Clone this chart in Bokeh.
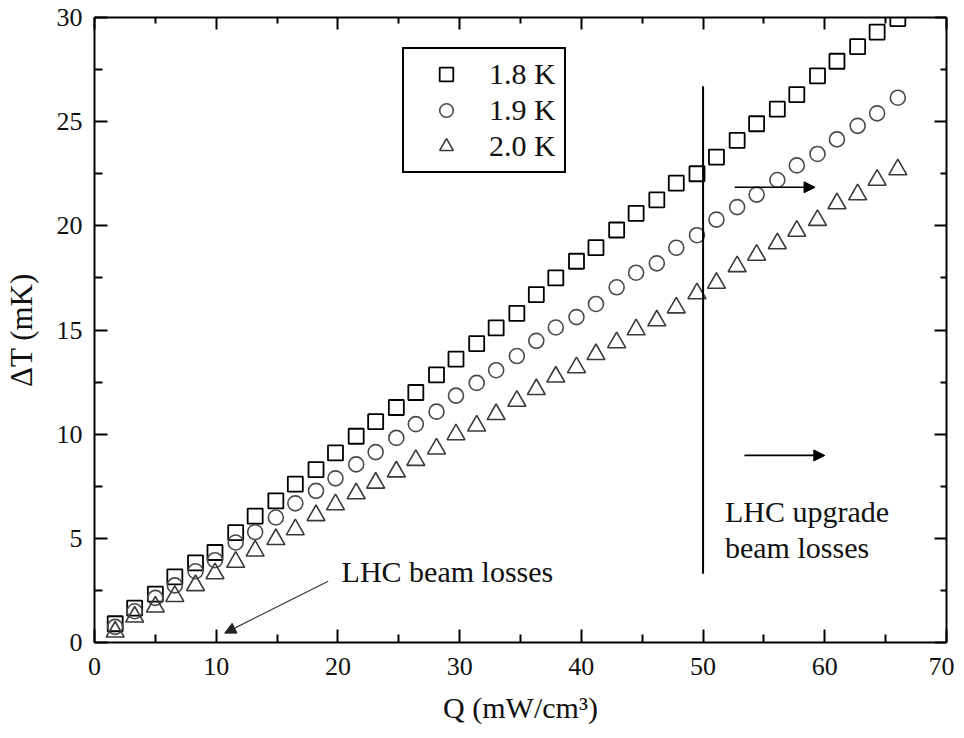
from bokeh.plotting import figure
from bokeh.models import (FixedTicker, LinearAxis, Range1d, Legend, LegendItem,
                          Arrow, NormalHead, Label)
from bokeh.embed import file_html
from bokeh.resources import INLINE

# ---- data ----
q = [1.7, 3.3, 5.0, 6.6, 8.3, 9.9, 11.6, 13.2, 14.9, 16.5,
     18.2, 19.8, 21.5, 23.1, 24.8, 26.4, 28.1, 29.7, 31.4, 33.0,
     34.7, 36.3, 37.9, 39.6, 41.2, 42.9, 44.5, 46.2, 47.8, 49.5,
     51.1, 52.8, 54.4, 56.1, 57.7, 59.4, 61.0, 62.7, 64.3, 66.0]
dt_18K = [0.9, 1.65, 2.32, 3.15, 3.82, 4.32, 5.27, 6.07, 6.8, 7.6,
          8.3, 9.1, 9.9, 10.6, 11.28, 12.0, 12.85, 13.6, 14.35, 15.1,
          15.8, 16.7, 17.5, 18.3, 18.95, 19.8, 20.6, 21.25, 22.05, 22.5,
          23.3, 24.1, 24.9, 25.6, 26.3, 27.2, 27.9, 28.6, 29.3, 29.95]
dt_19K = [0.75, 1.5, 2.14, 2.74, 3.42, 3.95, 4.8, 5.3, 6.0, 6.68,
          7.28, 7.88, 8.55, 9.14, 9.82, 10.48, 11.08, 11.85, 12.46, 13.07,
          13.75, 14.48, 15.12, 15.62, 16.25, 17.05, 17.75, 18.2, 18.95, 19.55,
          20.3, 20.9, 21.5, 22.2, 22.9, 23.45, 24.15, 24.8, 25.4, 26.15]
dt_20K = [0.51, 1.23, 1.71, 2.22, 2.74, 3.31, 3.86, 4.4, 4.95, 5.42,
          6.1, 6.62, 7.15, 7.66, 8.2, 8.75, 9.3, 9.98, 10.4, 10.95,
          11.59, 12.15, 12.75, 13.2, 13.83, 14.4, 15.02, 15.45, 16.07, 16.75,
          17.25, 18.05, 18.6, 19.15, 19.75, 20.27, 21.07, 21.5, 22.2, 22.7]
series_labels = ["1.8 K", "1.9 K", "2.0 K"]
x_title = "Q (mW/cm³)"
y_title = "ΔT (mK)"

x_major = [0, 10, 20, 30, 40, 50, 60, 70]
x_minor = [5, 15, 25, 35, 45, 55, 65]
y_major = [0, 5, 10, 15, 20, 25, 30]
y_minor = [2.5, 7.5, 12.5, 17.5, 22.5, 27.5]

# annotation positions (data units)
limit_q = 50
limit_dt = [3.3, 26.7]
arrow_upper = dict(x0=52.6, x1=59.2, y=21.85)
arrow_lower = dict(x0=53.4, x1=60.0, y=8.98)
arrow_lhc = dict(x0=19.2, y0=2.94, x1=10.7, y1=0.45)
text_lhc = dict(x=20.3, y=3.42, text="LHC beam losses")
text_up1 = dict(x=51.8, y=6.3, text="LHC upgrade")
text_up2 = dict(x=51.8, y=4.55, text="beam losses")

SERIF = "Liberation Serif"
TXT = "#111111"

p = figure(width=954, height=736, output_backend="svg", toolbar_location=None,
           x_range=Range1d(0, 70), y_range=Range1d(0, 30),
           min_border_left=94, min_border_right=8, min_border_top=17,
           min_border_bottom=94,
           x_axis_label=x_title, y_axis_label=y_title)
p.grid.visible = False
p.outline_line_color = None
p.background_fill_color = "white"
p.border_fill_color = "white"

for ax, maj, mnr in ((p.xaxis[0], x_major, x_minor), (p.yaxis[0], y_major, y_minor)):
    ax.ticker = FixedTicker(ticks=maj, minor_ticks=mnr)
    ax.axis_line_width = 2
    ax.axis_line_color = "black"
    ax.major_tick_in = 13
    ax.major_tick_out = 0
    ax.minor_tick_in = 8
    ax.minor_tick_out = 0
    ax.major_tick_line_width = 2
    ax.minor_tick_line_width = 2
    ax.major_tick_line_color = "black"
    ax.minor_tick_line_color = "black"
    ax.major_label_text_font = SERIF
    ax.major_label_text_font_size = "26px"
    ax.major_label_text_color = TXT
    ax.axis_label_text_font = SERIF
    ax.axis_label_text_font_style = "normal"
    ax.axis_label_text_color = TXT
p.xaxis[0].major_label_standoff = 15
p.xaxis[0].axis_label_text_font_size = "30px"
p.xaxis[0].axis_label_standoff = 13
p.yaxis[0].major_label_standoff = 12
p.yaxis[0].axis_label_text_font_size = "31px"
p.yaxis[0].axis_label_standoff = 15

for side, maj, mnr in (("above", x_major, x_minor), ("right", y_major, y_minor)):
    ax = LinearAxis(ticker=FixedTicker(ticks=maj, minor_ticks=mnr),
                    major_label_overrides={t: "" for t in maj})
    ax.axis_line_width = 2
    ax.axis_line_color = "black"
    ax.major_tick_in = 12
    ax.major_tick_out = 0
    ax.minor_tick_in = 6
    ax.minor_tick_out = 0
    ax.major_tick_line_width = 2
    ax.minor_tick_line_width = 2
    ax.major_label_standoff = 0
    p.add_layout(ax, side)

r18 = p.scatter(q, dt_18K, marker="square", size=15, fill_color=None,
                line_color="black", line_width=1.8)
r19 = p.scatter(q, dt_19K, marker="circle", size=15, fill_color=None,
                line_color="#4a4a4a", line_width=1.6)
r20 = p.scatter(q, dt_20K, marker="triangle", size=18, fill_color=None,
                line_color="#3a3a3a", line_width=1.6)

legend = Legend(items=[LegendItem(label=series_labels[0], renderers=[r18]),
                       LegendItem(label=series_labels[1], renderers=[r19]),
                       LegendItem(label=series_labels[2], renderers=[r20])],
                location=(308, 469), orientation="vertical",
                padding=8, spacing=2, margin=0,
                glyph_width=68, glyph_height=34, label_standoff=9,
                label_text_font=SERIF, label_text_font_size="30px",
                label_text_color=TXT, label_text_baseline="middle",
                border_line_color="black", border_line_width=2,
                border_line_alpha=1.0,
                background_fill_color="white", background_fill_alpha=1)
p.add_layout(legend, "center")

p.segment(x0=[limit_q], y0=[limit_dt[0]], x1=[limit_q], y1=[limit_dt[1]],
          line_color="black", line_width=2)

for a in (arrow_upper, arrow_lower):
    p.add_layout(Arrow(end=NormalHead(size=11, fill_color="black", line_color="black"),
                       x_start=a["x0"], y_start=a["y"], x_end=a["x1"], y_end=a["y"],
                       line_color="black", line_width=1.6))
p.add_layout(Arrow(end=NormalHead(size=11, fill_color="#222222", line_color="#222222"),
                   x_start=arrow_lhc["x0"], y_start=arrow_lhc["y0"],
                   x_end=arrow_lhc["x1"], y_end=arrow_lhc["y1"],
                   line_color="#333333", line_width=1.2))

for t in (text_lhc, text_up1, text_up2):
    p.add_layout(Label(x=t["x"], y=t["y"], text=t["text"], text_font=SERIF,
                       text_font_size="30px", text_color=TXT,
                       text_baseline="alphabetic", text_align="left"))

open("out.html", "w").write(file_html(p, INLINE))
